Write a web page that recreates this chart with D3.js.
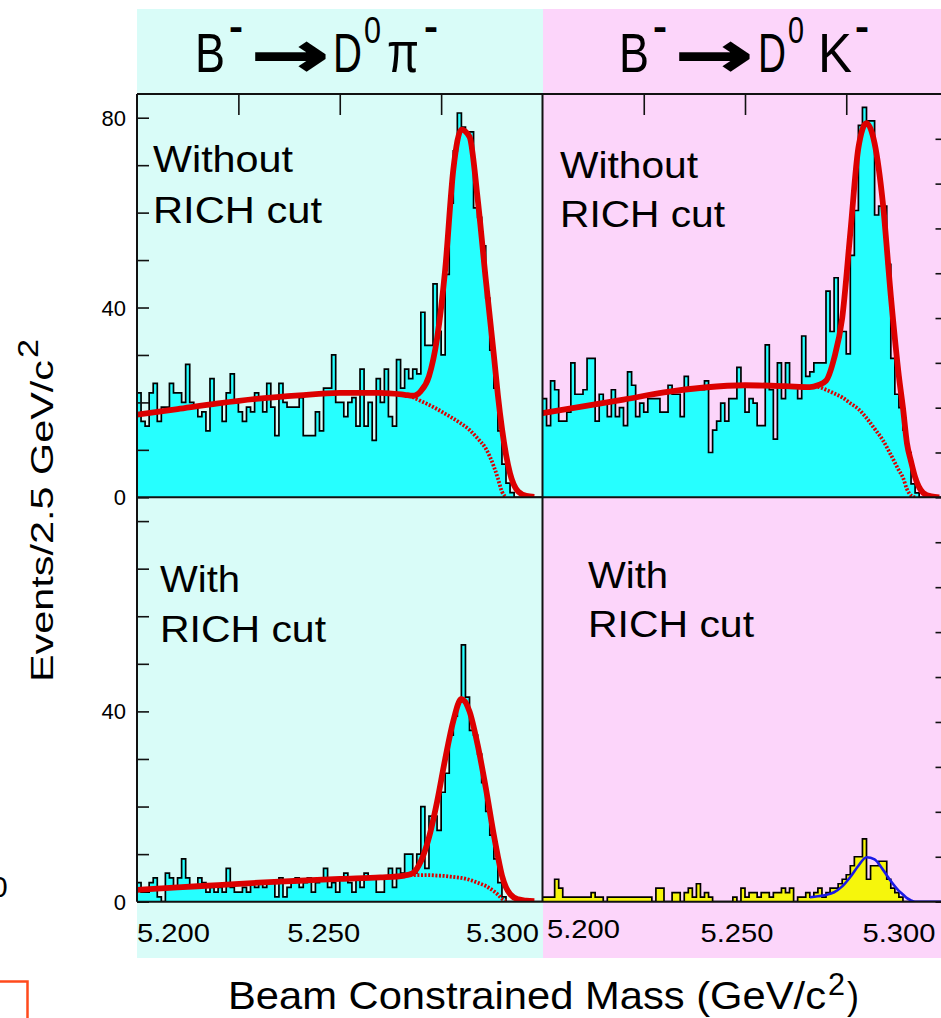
<!DOCTYPE html>
<html>
<head>
<meta charset="utf-8">
<script src="https://cdn.jsdelivr.net/npm/d3@7"></script>
<style>
  html, body { margin: 0; padding: 0; background: #ffffff; }
  svg { display: block; }
</style>
</head>
<body>
<svg id="chart" width="941" height="1018"></svg>
<script>
// ---------------- data ----------------
// Beam-constrained mass, 1 MeV bins from 5.200 to 5.300 GeV/c^2
const massRange = [5.200, 5.300];
const binWidth = 0.001;

// B- -> D0 pi-, without RICH cut
const countsPiNoCut = [
  22, 16, 15, 22, 24, 16, 19, 19, 24, 22,
  22, 20, 28, 20, 19, 17, 18, 14, 25, 20,
  20, 16, 22, 26, 20, 18, 16, 19, 18, 22,
  21, 18, 24, 19, 13, 24, 20, 19, 19, 19,
  21, 13, 13, 13, 18, 14, 23, 23, 30, 20,
  20, 17, 20, 21, 15, 27, 15, 20, 12, 25,
  20, 27, 17, 15, 29, 23, 27, 25, 27, 26,
  39, 32, 32, 45, 35, 30, 47, 62, 73, 81,
  78, 77, 77, 61, 59, 53, 42, 31, 23, 14,
  7, 3, 1, 0, 0, 0, 0, 0, 0, 0
];
// B- -> D0 K-, without RICH cut
const countsKNoCut = [
  22, 16, 26, 24, 17, 17, 19, 30, 23, 23,
  24, 31, 31, 17, 23, 21, 18, 24, 18, 20,
  16, 28, 25, 18, 21, 19, 22, 22, 22, 19,
  19, 25, 23, 23, 18, 27, 24, 24, 24, 24,
  26, 10, 15, 17, 21, 17, 22, 22, 29, 25,
  19, 22, 21, 16, 16, 34, 24, 13, 30, 22,
  30, 25, 25, 22, 36, 27, 28, 30, 30, 30,
  46, 37, 49, 37, 37, 32, 54, 64, 83, 87,
  84, 84, 63, 65, 65, 52, 31, 23, 20, 15,
  10, 3, 1, 0, 0, 0, 0, 0, 0, 0
];
// B- -> D0 pi-, with RICH cut
const countsPiCut = [
  4, 2, 2, 4, 5, 1, 0, 6, 5, 3,
  5, 9, 5, 3, 3, 5, 4, 2, 3, 2,
  3, 2, 7, 3, 2, 2, 3, 2, 4, 3,
  4, 3, 4, 4, 1, 5, 1, 3, 4, 5,
  3, 4, 5, 2, 4, 5, 7, 3, 4, 2,
  5, 6, 4, 2, 5, 3, 6, 5, 5, 2,
  2, 5, 7, 3, 7, 6, 10, 10, 6, 10,
  20, 7, 18, 18, 15, 23, 27, 35, 39, 42,
  54, 43, 36, 35, 31, 25, 19, 14, 9, 4,
  1, 0, 0, 0, 0, 0, 0, 0, 0, 0
];
// B- -> D0 K-, with RICH cut
const countsKCut = [
  1, 1, 1, 5, 3, 1, 1, 1, 1, 1,
  1, 1, 2, 1, 1, 0, 1, 1, 1, 1,
  1, 1, 1, 1, 1, 1, 1, 0, 3, 3,
  0, 0, 2, 2, 0, 2, 3, 1, 4, 1,
  2, 1, 0, 0, 0, 0, 0, 1, 0, 3,
  1, 2, 2, 1, 2, 2, 1, 2, 2, 3,
  2, 3, 0, 1, 1, 2, 1, 2, 3, 1,
  2, 3, 3, 4, 5, 6, 8, 10, 10, 14,
  5, 8, 8, 9, 9, 5, 3, 2, 1, 0,
  0, 0, 0, 0, 0, 0, 0, 0, 0, 0
];

// Fit curves sampled along the mass axis
const fitMass = [
  5.200, 5.210, 5.220, 5.230, 5.240, 5.250, 5.260, 5.266, 5.268, 5.270,
  5.272, 5.274, 5.276, 5.278, 5.280, 5.282, 5.284, 5.286, 5.288, 5.289,
  5.290, 5.291, 5.292, 5.294, 5.296, 5.298, 5.300
];
const fitPiNoCutTotal = [
  17.4, 18.6, 19.8, 20.8, 21.5, 22.0, 22.0, 21.6, 21.4, 22.4,
  25.5, 33.5, 48.0, 69.0, 77.5, 76.0, 63.0, 46.0, 30.0, 21.5,
  14.5, 9.0, 5.0, 1.2, 0.3, 0.1, null
];
const fitPiNoCutBkg = [
  17.4, 18.6, 19.8, 20.8, 21.5, 22.0, 22.0, 21.6, 21.1, 20.3,
  19.5, 18.6, 17.6, 16.6, 15.5, 14.2, 12.4, 10.3, 6.5, 4.0,
  1.2, 0.0, null, null, null, null, null
];
const fitKNoCutTotal = [
  18.8, 20.3, 21.8, 23.4, 24.5, 25.0, 24.8, 24.6, 25.0, 26.0,
  31.0, 40.0, 59.0, 78.0, 83.5, 79.0, 66.0, 45.0, 27.0, 20.0,
  12.0, 8.0, 4.5, 1.0, 0.2, 0.0, null
];
const fitKNoCutBkg = [
  18.8, 20.3, 21.8, 23.4, 24.5, 25.0, 24.8, 24.6, 24.6, 24.0,
  23.2, 22.3, 21.0, 19.7, 17.7, 15.3, 12.8, 9.5, 6.0, 4.4,
  1.8, 0.4, 0.0, null, null, null, null
];
const fitPiCutTotal = [
  2.5, 3.0, 3.5, 4.0, 4.4, 4.8, 5.1, 5.5, 6.0, 8.5,
  13.5, 21.0, 30.0, 38.0, 42.6, 40.0, 33.0, 24.0, 14.0, 9.5,
  5.5, 3.0, 1.6, 0.5, 0.2, 0.1, null
];
const fitPiCutBkg = [
  2.5, 3.0, 3.5, 4.0, 4.4, 4.8, 5.1, 5.5, 5.6, 5.6,
  5.6, 5.5, 5.4, 5.2, 5.0, 4.6, 4.0, 3.3, 2.2, 1.5,
  0.6, 0.1, null, null, null, null, null
];
const fitKCutTotal = [
  null, null, null, null, null, null, null, 1.0, 1.2, 1.5,
  2.1, 3.4, 5.5, 8.0, 9.9, 9.4, 7.2, 4.6, 2.4, 1.6,
  0.8, 0.3, 0.0, 0.0, 0.0, 0.0, 0.0
];

// Axis ticks and labels
const yTickValues = [0, 10, 20, 30, 40, 50, 60, 70, 80];
const yLabelsUpper = ["0", "40", "80"];
const yLabelsLower = ["0", "40"];
const topTickValues = [5.225, 5.250, 5.275];
const xTickLabels = ["5.200", "5.250", "5.300"];
const panelNotes = [["Without", "RICH cut"], ["With", "RICH cut"]];

// ---------------- layout ----------------
const svg = d3.select("#chart");
const FONT = "'Liberation Sans', Arial, Helvetica, sans-serif";
const colLeft = { x0: 137, x1: 542.5 };
const colRight = { x0: 542.5, x1: 947.5 };
const rowTop = { y0: 94, y1: 497.3 };
const rowBot = { y0: 497.3, y1: 901.7 };

const CYAN_BG = "#d9fcf8";
const PINK_BG = "#fcd5fa";
const HIST_CYAN = "#26ffff";
const HIST_YELLOW = "#f6f60c";
const FIT_RED = "#dc0000";
const FIT_BLUE = "#1a1ae6";

// background bands behind each decay column
svg.append("rect").attr("x", 137).attr("y", 9).attr("width", 406).attr("height", 949).attr("fill", CYAN_BG);
svg.append("rect").attr("x", 543).attr("y", 9).attr("width", 400).attr("height", 949).attr("fill", PINK_BG);

function addText(parent, str, x, y, size, len, opts = {}) {
  const t = parent.append("text")
    .attr("x", x).attr("y", y)
    .attr("font-family", opts.family || FONT)
    .attr("font-size", size)
    .attr("font-weight", opts.weight || "normal")
    .attr("fill", opts.fill || "#000")
    .attr("text-anchor", opts.anchor || "start")
    .text(str);
  if (len) t.attr("textLength", len).attr("lengthAdjust", "spacingAndGlyphs");
  if (opts.stroke) t.attr("stroke", opts.fill || "#000").attr("stroke-width", opts.stroke);
  return t;
}

const panels = [
  { id: "piNo", col: colLeft,  row: rowTop, yMax: 85, counts: countsPiNoCut, fill: HIST_CYAN,
    total: fitPiNoCutTotal, bkg: fitPiNoCutBkg, color: FIT_RED, side: "left", topTicks: true },
  { id: "kNo",  col: colRight, row: rowTop, yMax: 90, counts: countsKNoCut, fill: HIST_CYAN,
    total: fitKNoCutTotal, bkg: fitKNoCutBkg, color: FIT_RED, side: "right", topTicks: true },
  { id: "piCut", col: colLeft,  row: rowBot, yMax: 85, counts: countsPiCut, fill: HIST_CYAN,
    total: fitPiCutTotal, bkg: fitPiCutBkg, color: FIT_RED, side: "left", topTicks: false },
  { id: "kCut", col: colRight, row: rowBot, yMax: 90, counts: countsKCut, fill: HIST_YELLOW,
    total: fitKCutTotal, bkg: null, color: FIT_BLUE, side: "right", topTicks: false }
];

const defs = svg.append("defs");

panels.forEach(p => {
  const x = d3.scaleLinear().domain(massRange).range([p.col.x0, p.col.x1]);
  const y = d3.scaleLinear().domain([0, p.yMax]).range([p.row.y1, p.row.y0]);
  p.x = x; p.y = y;

  defs.append("clipPath").attr("id", "clip-" + p.id)
    .append("rect")
    .attr("x", p.col.x0).attr("y", p.row.y0)
    .attr("width", p.col.x1 - p.col.x0).attr("height", p.row.y1 - p.row.y0);

  const g = svg.append("g").attr("clip-path", `url(#clip-${p.id})`);

  // histogram: step points at each bin's low edge plus the final high edge
  const pts = p.counts.map((c, i) => [massRange[0] + i * binWidth, c]);
  pts.push([massRange[0] + p.counts.length * binWidth, p.counts[p.counts.length - 1]]);

  g.append("path")
    .attr("d", d3.area().x(d => x(d[0])).y0(y(0)).y1(d => y(d[1])).curve(d3.curveStepAfter)(pts))
    .attr("fill", p.fill);
  g.append("path")
    .attr("d", d3.line().x(d => x(d[0])).y(d => y(d[1])).curve(d3.curveStepAfter)(pts))
    .attr("fill", "none").attr("stroke", "#000").attr("stroke-width", 1.7);

  const fitLine = d3.line()
    .defined(d => d[1] != null)
    .x(d => x(d[0])).y(d => y(d[1]))
    .curve(d3.curveMonotoneX);

  if (p.bkg) {
    g.append("path")
      .attr("d", fitLine(fitMass.map((m, i) => [m, p.bkg[i]])))
      .attr("fill", "none").attr("stroke", p.color)
      .attr("stroke-width", 3.8).attr("stroke-dasharray", "2,1.6");
  }
  g.append("path")
    .attr("d", fitLine(fitMass.map((m, i) => [m, p.total[i]])))
    .attr("fill", "none").attr("stroke", p.color)
    .attr("stroke-width", p.color === FIT_BLUE ? 2.6 : 5.8)
    .attr("stroke-linejoin", "round");

  // y ticks pointing into the frame
  const yAxis = (p.side === "left" ? d3.axisLeft(y) : d3.axisRight(y))
    .tickValues(yTickValues).tickSize(-12).tickFormat("");
  const ya = svg.append("g")
    .attr("transform", `translate(${p.side === "left" ? p.col.x0 : p.col.x1},0)`)
    .call(yAxis);
  ya.select(".domain").remove();
  ya.selectAll(".tick line").attr("stroke", "#111").attr("stroke-width", 1.6);

  if (p.topTicks) {
    const xa = svg.append("g")
      .attr("transform", `translate(0,${p.row.y0})`)
      .call(d3.axisTop(x).tickValues(topTickValues).tickSize(-21).tickFormat(""));
    xa.select(".domain").remove();
    xa.selectAll(".tick line").attr("stroke", "#111").attr("stroke-width", 1.6);
  }
});

// frame lines
const frame = svg.append("g").attr("stroke", "#111").attr("stroke-width", 2).attr("fill", "none");
frame.append("line").attr("x1", 137).attr("x2", 941).attr("y1", rowTop.y0).attr("y2", rowTop.y0);
frame.append("line").attr("x1", 137).attr("x2", 941).attr("y1", rowTop.y1).attr("y2", rowTop.y1);
frame.append("line").attr("x1", 137).attr("x2", 941).attr("y1", rowBot.y1).attr("y2", rowBot.y1);
frame.append("line").attr("x1", 137).attr("x2", 137).attr("y1", rowTop.y0).attr("y2", rowBot.y1);
frame.append("line").attr("x1", 542.5).attr("x2", 542.5).attr("y1", rowTop.y0).attr("y2", rowBot.y1);

// y tick labels on the left column
const pTop = panels[0], pBot = panels[2];
yLabelsUpper.forEach(s => addText(svg, s, 126, pTop.y(+s) + 8, 22, null, { anchor: "end" }));
yLabelsLower.forEach(s => addText(svg, s, 126, pBot.y(+s) + 8, 22, null, { anchor: "end" }));

// x tick labels under the lower panels
const xLabelLayout = [
  { p: panels[2], dx: [0, -16, -3.5], anchor: ["start", "middle", "end"], y: [942, 942, 942] },
  { p: panels[3], dx: [4.5, -8, -12], anchor: ["start", "middle", "end"], y: [938, 942, 942] }
];
xLabelLayout.forEach(L => {
  xTickLabels.forEach((s, i) => {
    addText(svg, s, L.p.x(+s) + L.dx[i], L.y[i], 25, 73, { anchor: L.anchor[i] });
  });
});

// panel annotations
const noteLayout = [
  { x: 153, y: [172, 223], len: [140, 169], note: panelNotes[0] },
  { x: 560, y: [178, 227], len: [138, 165], note: panelNotes[0] },
  { x: 160, y: [592, 642], len: [80, 166], note: panelNotes[1] },
  { x: 588, y: [588, 637], len: [80, 166], note: panelNotes[1] }
];
noteLayout.forEach(n => {
  n.note.forEach((s, i) => addText(svg, s, n.x, n.y[i], 37, n.len[i]));
});

// decay titles: one text element each, glyphs placed as tspans
function decayTitle(pieces) {
  const t = svg.append("text")
    .attr("font-family", FONT).attr("font-size", 55).attr("fill", "#000");
  pieces.forEach(pc => {
    const s = t.append("tspan")
      .attr("x", pc.x).attr("y", pc.y)
      .attr("font-size", pc.size)
      .attr("textLength", pc.w).attr("lengthAdjust", "spacingAndGlyphs")
      .text(pc.s);
    if (pc.weight) s.attr("font-weight", pc.weight);
    if (pc.family) s.attr("font-family", pc.family);
    if (pc.stroke) s.attr("stroke", "#000").attr("stroke-width", pc.stroke);
  });
  return t;
}
const ARROW_FONT = "'DejaVu Sans', sans-serif";
decayTitle([
  { s: "B", x: 195, y: 72, size: 55, w: 30 },
  { s: "-", x: 229, y: 40, size: 38, w: 14, weight: "bold" },
  { s: "→", x: 251, y: 76, size: 62, w: 78, family: ARROW_FONT, weight: "bold", stroke: 1.5 },
  { s: "D", x: 333, y: 72, size: 55, w: 29 },
  { s: "0", x: 364, y: 43, size: 36, w: 17 },
  { s: "π", x: 387, y: 72, size: 58, w: 32 },
  { s: "-", x: 424, y: 40, size: 38, w: 14, weight: "bold" }
]);
decayTitle([
  { s: "B", x: 619, y: 72, size: 55, w: 30 },
  { s: "-", x: 653, y: 40, size: 38, w: 14, weight: "bold" },
  { s: "→", x: 675, y: 76, size: 62, w: 78, family: ARROW_FONT, weight: "bold", stroke: 1.5 },
  { s: "D", x: 758, y: 72, size: 55, w: 28 },
  { s: "0", x: 788, y: 43, size: 36, w: 16 },
  { s: "K", x: 818, y: 72, size: 55, w: 34 },
  { s: "-", x: 855, y: 40, size: 38, w: 14, weight: "bold" }
]);

// axis titles
svg.append("text")
  .attr("transform", "translate(53,682) rotate(-90)")
  .attr("font-family", FONT).attr("font-size", 32)
  .attr("textLength", 322).attr("lengthAdjust", "spacingAndGlyphs")
  .text("Events/2.5 GeV/c");
svg.append("text")
  .attr("transform", "translate(38,358) rotate(-90)")
  .attr("font-family", FONT).attr("font-size", 29)
  .attr("textLength", 19).attr("lengthAdjust", "spacingAndGlyphs")
  .text("2");

addText(svg, "Beam Constrained Mass (GeV/c", 228, 1009, 39, 598);
addText(svg, "2", 828, 995, 31, 17);
addText(svg, ")", 847, 1009, 38, 12);

// fragments along the left edge of the sheet
addText(svg, "0", -9, 897, 30);
svg.append("path").attr("d", "M0,981.5 H27.5 V1018")
  .attr("fill", "none").attr("stroke", "#ff4a1c").attr("stroke-width", 2.5);
</script>
</body>
</html>
